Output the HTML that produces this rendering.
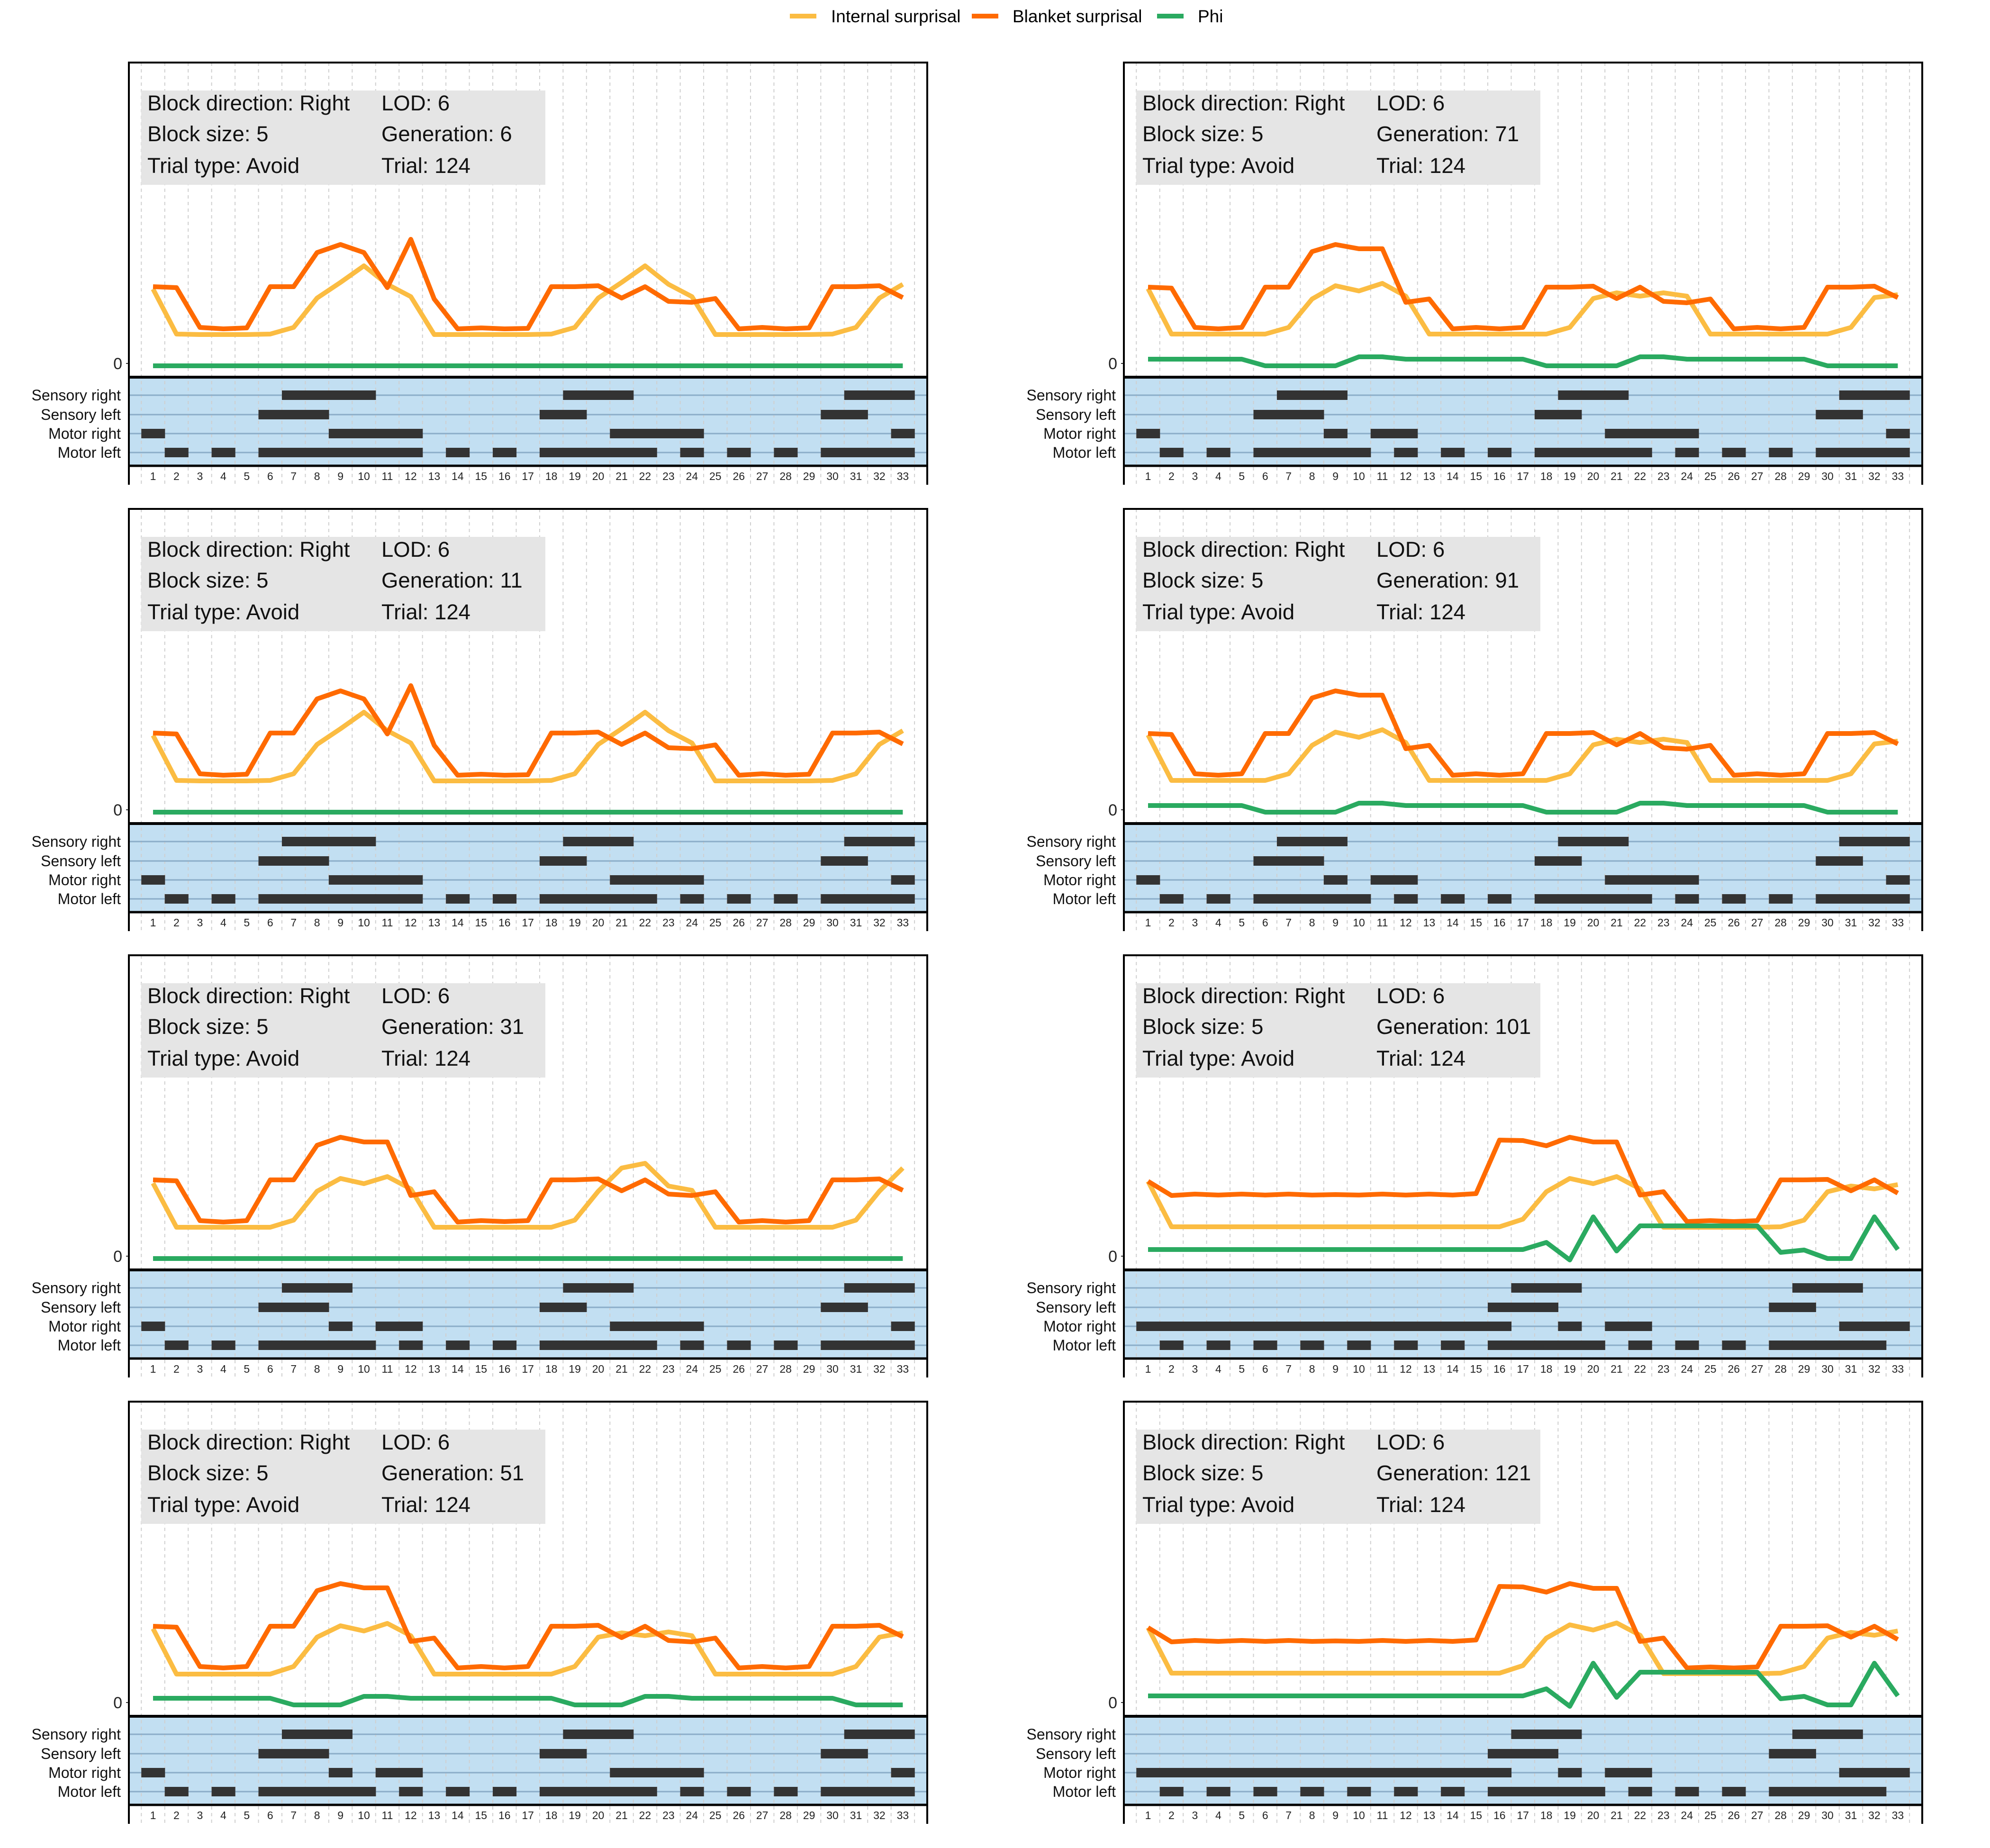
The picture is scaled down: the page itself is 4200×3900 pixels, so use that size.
<!DOCTYPE html>
<html><head><meta charset="utf-8"><title>Surprisal and Phi by generation</title>
<style>html,body{margin:0;padding:0;background:#fff}svg{display:block}text{font-family:"Liberation Sans",Arial,sans-serif}</style>
</head><body>
<svg id="chart" xmlns="http://www.w3.org/2000/svg" width="4200" height="3900" viewBox="0 0 4200 3900">
<g>
<line x1="1667" y1="34" x2="1723" y2="34" stroke="#fbbc42" stroke-width="10"/>
<text x="1754" y="47" font-size="37">Internal surprisal</text>
<line x1="2051" y1="34" x2="2107" y2="34" stroke="#ff6a00" stroke-width="10"/>
<text x="2137" y="47" font-size="37">Blanket surprisal</text>
<line x1="2442" y1="34" x2="2498" y2="34" stroke="#2aaa60" stroke-width="10"/>
<text x="2528" y="47" font-size="37">Phi</text>
</g>
</svg>
<script>
// ---- data ----
const steps = [1,2,3,4,5,6,7,8,9,10,11,12,13,14,15,16,17,18,19,20,21,22,23,24,25,26,27,28,29,30,31,32,33];
const generations = [6, 11, 31, 51, 71, 91, 101, 121];
const rasterRows = ["Sensory right","Sensory left","Motor right","Motor left"];

const blankA = [1.62,1.60,0.76,0.73,0.75,1.62,1.62,2.34,2.51,2.34,1.60,2.62,1.36,0.73,0.75,0.73,0.74,1.62,1.62,1.64,1.38,1.62,1.31,1.29,1.37,0.73,0.76,0.73,0.75,1.62,1.62,1.64,1.39];
const internA = [1.57,0.62,0.61,0.61,0.61,0.62,0.76,1.38,1.71,2.06,1.67,1.41,0.61,0.61,0.61,0.61,0.61,0.62,0.76,1.38,1.71,2.06,1.67,1.41,0.61,0.61,0.61,0.61,0.61,0.62,0.76,1.38,1.67];
const phiA = [-0.05,-0.05,-0.05,-0.05,-0.05,-0.05,-0.05,-0.05,-0.05,-0.05,-0.05,-0.05,-0.05,-0.05,-0.05,-0.05,-0.05,-0.05,-0.05,-0.05,-0.05,-0.05,-0.05,-0.05,-0.05,-0.05,-0.05,-0.05,-0.05,-0.05,-0.05,-0.05,-0.05];

const blank31 = [1.61,1.59,0.75,0.72,0.75,1.61,1.61,2.34,2.51,2.41,2.41,1.28,1.36,0.72,0.75,0.73,0.75,1.61,1.61,1.63,1.38,1.61,1.31,1.28,1.36,0.72,0.75,0.72,0.75,1.61,1.61,1.63,1.39];
const intern31 = [1.54,0.61,0.61,0.61,0.61,0.61,0.76,1.37,1.64,1.53,1.68,1.42,0.61,0.61,0.61,0.61,0.61,0.61,0.76,1.37,1.86,1.96,1.48,1.39,0.61,0.61,0.61,0.61,0.61,0.61,0.76,1.37,1.86];

const blank71 = [1.61,1.59,0.76,0.73,0.76,1.61,1.61,2.36,2.51,2.42,2.42,1.29,1.36,0.73,0.76,0.73,0.76,1.61,1.61,1.63,1.37,1.61,1.31,1.28,1.36,0.73,0.76,0.73,0.76,1.61,1.61,1.63,1.39];
const intern51 = [1.56,0.6,0.6,0.6,0.6,0.6,0.76,1.38,1.62,1.51,1.67,1.41,0.6,0.6,0.6,0.6,0.6,0.6,0.76,1.38,1.47,1.41,1.49,1.41,0.6,0.6,0.6,0.6,0.6,0.6,0.76,1.38,1.47];
const phi51 = [0.09,0.09,0.09,0.09,0.09,0.09,-0.05,-0.05,-0.05,0.13,0.13,0.09,0.09,0.09,0.09,0.09,0.09,0.09,-0.05,-0.05,-0.05,0.13,0.13,0.09,0.09,0.09,0.09,0.09,0.09,0.09,-0.05,-0.05,-0.05];
const intern71 = [1.58,0.62,0.62,0.62,0.62,0.62,0.76,1.36,1.64,1.53,1.69,1.42,0.62,0.62,0.62,0.62,0.62,0.62,0.76,1.37,1.49,1.42,1.49,1.42,0.62,0.62,0.62,0.62,0.62,0.62,0.76,1.39,1.45];
const phi71 = [0.09,0.09,0.09,0.09,0.09,-0.05,-0.05,-0.05,-0.05,0.14,0.14,0.09,0.09,0.09,0.09,0.09,0.09,-0.05,-0.05,-0.05,-0.05,0.14,0.14,0.09,0.09,0.09,0.09,0.09,0.09,-0.05,-0.05,-0.05,-0.05];

const blank101 = [1.58,1.28,1.31,1.29,1.31,1.29,1.31,1.29,1.30,1.29,1.31,1.29,1.31,1.29,1.32,2.45,2.44,2.33,2.51,2.41,2.41,1.29,1.36,0.73,0.75,0.73,0.75,1.61,1.61,1.62,1.38,1.61,1.33];
const intern101 = [1.58,0.62,0.62,0.62,0.62,0.62,0.62,0.62,0.62,0.62,0.62,0.62,0.62,0.62,0.62,0.62,0.78,1.36,1.64,1.53,1.68,1.42,0.61,0.61,0.61,0.61,0.61,0.62,0.76,1.36,1.48,1.42,1.51];
const phi101 = [0.14,0.14,0.14,0.14,0.14,0.14,0.14,0.14,0.14,0.14,0.14,0.14,0.14,0.14,0.14,0.14,0.14,0.29,-0.08,0.83,0.11,0.64,0.64,0.64,0.64,0.64,0.64,0.08,0.13,-0.05,-0.05,0.83,0.14];

const srA = [7,8,9,10,19,20,21,31,32,33];
const slA = [6,7,8,18,19,30,31];
const mrA = [1,9,10,11,12,21,22,23,24,33];
const mlA = [2,4,6,7,8,9,10,11,12,14,16,18,19,20,21,22,24,26,28,30,31,32,33];
const srB = [7,8,9,19,20,21,31,32,33];
const slB = [6,7,8,18,19,30,31];
const mrB = [1,9,11,12,21,22,23,24,33];
const mlB = [2,4,6,7,8,9,10,12,14,16,18,19,20,21,22,24,26,28,30,31,32,33];
const srC = [17,18,19,29,30,31];
const slC = [16,17,18,28,29];
const mrC = [1,2,3,4,5,6,7,8,9,10,11,12,13,14,15,16,19,21,22,31,32,33];
const mlC = [2,4,6,8,10,12,14,16,17,18,19,20,22,24,26,28,29,30,31,32];

const panelInternal = [internA, internA, intern31, intern51, intern71, intern71, intern101, intern101];
const panelBlanket = [blankA, blankA, blank31, blank71, blank71, blank71, blank101, blank101];
const panelPhi = [phiA, phiA, phiA, phi51, phi71, phi71, phi101, phi101];
const panelRaster = [[srA,slA,mrA,mlA],[srA,slA,mrA,mlA],[srB,slB,mrB,mlB],[srB,slB,mrB,mlB],[srB,slB,mrB,mlB],[srB,slB,mrB,mlB],[srC,slC,mrC,mlC],[srC,slC,mrC,mlC]];

// ---- drawing ----
const NS = "http://www.w3.org/2000/svg";
const svg = document.getElementById("chart");
function mk(tag, attrs, parent) {
  const e = document.createElementNS(NS, tag);
  for (const k in attrs) e.setAttribute(k, attrs[k]);
  parent.appendChild(e);
  return e;
}
const PW = 1685, STEP = 49.45, X1 = 51, ZERO = 635, YS = 100;
const colX = [272, 2372], rowY = [132, 1074, 2016, 2958];
const xs = v => X1 + (v - 1) * STEP;
const ys = v => ZERO - v * YS;
const rowCY = [702, 743, 783, 823];

generations.forEach((gen, p) => {
  const ox = colX[Math.floor(p / 4)], oy = rowY[p % 4];
  const g = mk("g", {transform: `translate(${ox},${oy})`}, svg);
  
  

  const rb = mk("rect", {x: 0, y: 664, width: PW, height: 187, fill: "#c2dff2"}, g);
  
  

  for (let i = 0; i <= 33; i++) {
    const gx = xs(i + 0.5);
    const gl = mk("line", {x1: gx, y1: 0, x2: gx, y2: 891, stroke: "#cfcfcf", "stroke-width": 2, "stroke-dasharray": "7 7"}, g);
    
    
  }

  const box = mk("rect", {x: 26, y: 59, width: 853, height: 199, fill: "#e5e5e5"}, g);
  
  
  const info = [["Block direction: Right","LOD: 6"],["Block size: 5","Generation: " + gen],["Trial type: Avoid","Trial: 124"]];
  const bl = [101, 166, 233];
  info.forEach((row, r) => {
    row.forEach((txt, c) => {
      const t = mk("text", {x: c ? 533 : 39, y: bl[r], "font-size": 45.5, fill: "#111"}, g);
      t.textContent = txt;
      
      
    });
  });

  const series = [[panelInternal[p], "#fbbc42", "internal-surprisal-line"], [panelBlanket[p], "#ff6a00", "blanket-surprisal-line"], [panelPhi[p], "#2aaa60", "phi-line"]];
  series.forEach(([vals, col, nm]) => {
    const pts = steps.map((s, i) => xs(s).toFixed(1) + "," + ys(vals[i]).toFixed(1)).join(" ");
    const pl = mk("polyline", {points: pts, fill: "none", stroke: col, "stroke-width": 10, "stroke-linejoin": "round"}, g);
    
    
  });

  const tk = mk("line", {x1: -6, y1: ys(0), x2: 0, y2: ys(0), stroke: "#333", "stroke-width": 2}, g);
  
  
  const t0 = mk("text", {x: -14, y: ys(0) + 12, "font-size": 34, "text-anchor": "end", fill: "#222"}, g);
  t0.textContent = "0";
  
  

  rasterRows.forEach((name, r) => {
    const rl = mk("line", {x1: 0, y1: rowCY[r], x2: PW, y2: rowCY[r], stroke: "#8badc8", "stroke-width": 3}, g);
    
    
    const lb = mk("text", {x: -17, y: rowCY[r] + 11, "font-size": 32, "text-anchor": "end", fill: "#111"}, g);
    lb.textContent = name;
    
    
    panelRaster[p][r].forEach(s => {
      const b = mk("rect", {x: xs(s - 0.5), y: rowCY[r] - 10, width: STEP + 0.6, height: 20, fill: "#333"}, g);
      
      
    });
  });

  steps.forEach(s => {
    const t = mk("text", {x: xs(s), y: 881, "font-size": 23, "text-anchor": "middle", fill: "#222"}, g);
    t.textContent = s;
    
    
  });

  const fr = mk("path", {d: `M0,891 L0,0 L${PW},0 L${PW},891`, fill: "none", stroke: "#000", "stroke-width": 4}, g);
  
  
  const dv = mk("line", {x1: 0, y1: 664, x2: PW, y2: 664, stroke: "#000", "stroke-width": 6}, g);
  
  
  const rbl = mk("line", {x1: 0, y1: 851, x2: PW, y2: 851, stroke: "#000", "stroke-width": 5}, g);
  
  
});
</script>
</body></html>
